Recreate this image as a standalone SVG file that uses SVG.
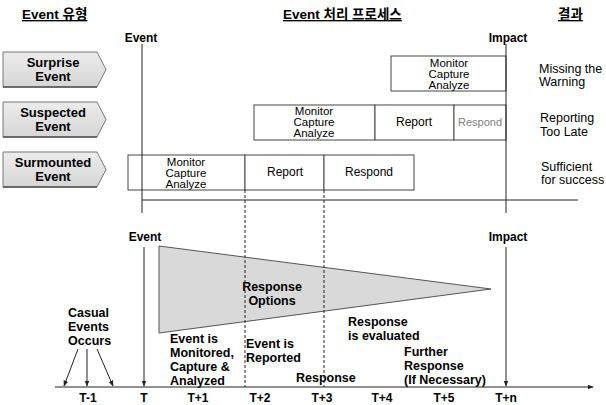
<svg xmlns="http://www.w3.org/2000/svg" width="606" height="405" viewBox="0 0 606 405">
  <style>
    .hd { font-family: "Liberation Sans", "Noto Sans CJK KR", sans-serif; font-size: 13.5px; font-weight: bold; fill: #000; text-decoration: underline; }
    .b { font-family: "Liberation Sans", Arial, sans-serif; font-size: 12.5px; font-weight: bold; fill: #000; }
    .c { font-family: "Liberation Sans", Arial, sans-serif; font-size: 13px; font-weight: bold; fill: #000; }
    .n { font-family: "Liberation Sans", Arial, sans-serif; font-size: 11.5px; fill: #000; }
    .m { font-family: "Liberation Sans", Arial, sans-serif; font-size: 12px; fill: #000; }
    .g { font-family: "Liberation Sans", Arial, sans-serif; font-size: 11px; fill: #808080; }
    .r { font-family: "Liberation Sans", Arial, sans-serif; font-size: 12.5px; fill: #000; }
    .t { font-family: "Liberation Sans", Arial, sans-serif; font-size: 12px; font-weight: bold; fill: #000; }
    .box { fill: #fff; stroke: #444; stroke-width: 1; }
    .chev { fill: url(#chevFill); stroke: #777; stroke-width: 1; }
    .ln { stroke: #222; stroke-width: 1; fill: none; }
    .dash { stroke: #222; stroke-width: 1; stroke-dasharray: 3 2; fill: none; }
  </style>
  <defs>
    <linearGradient id="chevFill" x1="0" y1="0" x2="0" y2="1">
      <stop offset="0" stop-color="#ececec"/>
      <stop offset="1" stop-color="#d6d6d6"/>
    </linearGradient>
    <marker id="arr" viewBox="0 0 10 10" refX="9" refY="5" markerWidth="6" markerHeight="6" orient="auto">
      <path d="M0,1 L10,5 L0,9 z" fill="#222"/>
    </marker>
  </defs>

  <rect width="606" height="405" fill="#fff"/>

  <!-- column headings -->
  <g id="headings">
    <text class="hd" x="22" y="19">Event 유형</text>
    <text class="hd" x="283" y="19">Event 처리 프로세스</text>
    <text class="hd" x="558" y="19">결과</text>
  </g>

  <!-- event type chevrons -->
  <g id="surprise-event">
    <path class="chev" d="M3,52 H97 L106,69.5 L97,87 H3 Z"/>
    <path d="M97,87 H3" stroke="#555" stroke-width="1.5"/>
    <text class="c" text-anchor="middle" x="53" y="67">Surprise</text>
    <text class="c" text-anchor="middle" x="53" y="81">Event</text>
  </g>
  <g id="suspected-event">
    <path class="chev" d="M3,102 H97 L106,119.5 L97,137 H3 Z"/>
    <path d="M97,137 H3" stroke="#555" stroke-width="1.5"/>
    <text class="c" text-anchor="middle" x="53" y="117">Suspected</text>
    <text class="c" text-anchor="middle" x="53" y="131">Event</text>
  </g>
  <g id="surmounted-event">
    <path class="chev" d="M3,152 H97 L106,169.5 L97,187 H3 Z"/>
    <path d="M97,187 H3" stroke="#555" stroke-width="1.5"/>
    <text class="c" text-anchor="middle" x="53" y="167">Surmounted</text>
    <text class="c" text-anchor="middle" x="53" y="181">Event</text>
  </g>

  <!-- process rows -->
  <g id="row-surprise">
    <rect class="box" x="391" y="56" width="115" height="35"/>
    <text class="n" text-anchor="middle" x="449" y="67">Monitor</text>
    <text class="n" text-anchor="middle" x="449" y="78">Capture</text>
    <text class="n" text-anchor="middle" x="449" y="89">Analyze</text>
  </g>
  <g id="row-suspected">
    <rect class="box" x="254" y="105" width="121" height="35"/>
    <rect class="box" x="375" y="105" width="79" height="35"/>
    <rect class="box" x="454" y="105" width="52" height="35"/>
    <text class="n" text-anchor="middle" x="314" y="115">Monitor</text>
    <text class="n" text-anchor="middle" x="314" y="126">Capture</text>
    <text class="n" text-anchor="middle" x="314" y="137">Analyze</text>
    <text class="m" text-anchor="middle" x="414" y="126">Report</text>
    <text class="g" text-anchor="middle" x="480" y="126">Respond</text>
  </g>
  <g id="row-surmounted">
    <rect class="box" x="128" y="155" width="117" height="35"/>
    <rect class="box" x="245" y="155" width="79" height="35"/>
    <rect class="box" x="324" y="155" width="90" height="35"/>
    <text class="n" text-anchor="middle" x="186" y="166">Monitor</text>
    <text class="n" text-anchor="middle" x="186" y="177">Capture</text>
    <text class="n" text-anchor="middle" x="186" y="188">Analyze</text>
    <text class="m" text-anchor="middle" x="285" y="176">Report</text>
    <text class="m" text-anchor="middle" x="369" y="176">Respond</text>
  </g>

  <!-- outcomes -->
  <g id="outcomes">
    <text class="r" x="539" y="72.5">Missing the</text>
    <text class="r" x="539" y="86">Warning</text>
    <text class="r" x="540" y="122">Reporting</text>
    <text class="r" x="540" y="135.5">Too Late</text>
    <text class="r" x="541" y="170.5">Sufficient</text>
    <text class="r" x="541" y="184">for success</text>
  </g>

  <!-- upper time frame -->
  <g id="upper-frame">
    <text class="t" text-anchor="middle" x="141" y="42">Event</text>
    <text class="t" text-anchor="middle" x="508" y="42">Impact</text>
  </g>

  <!-- response window -->
  <g id="response-options">
    <polygon points="159,246 491,289 159,333" fill="#d9d9d9" stroke="#555" stroke-width="1"/>
    <text class="b" text-anchor="middle" x="272" y="291">Response</text>
    <text class="b" text-anchor="middle" x="272" y="305">Options</text>
  </g>

  <!-- timeline labels -->
  <g id="timeline-labels">
    <text class="t" text-anchor="middle" x="145" y="241">Event</text>
    <text class="t" text-anchor="middle" x="508" y="241">Impact</text>
    <text class="b" x="68" y="317">Casual</text>
    <text class="b" x="68" y="331">Events</text>
    <text class="b" x="68" y="345">Occurs</text>
    <text class="b" x="170" y="343">Event is</text>
    <text class="b" x="170" y="357">Monitored,</text>
    <text class="b" x="170" y="371">Capture &amp;</text>
    <text class="b" x="170" y="385">Analyzed</text>
    <text class="b" x="246" y="348">Event is</text>
    <text class="b" x="246" y="362">Reported</text>
    <text class="b" x="296" y="382">Response</text>
    <text class="b" x="348" y="326">Response</text>
    <text class="b" x="348" y="340">is evaluated</text>
    <text class="b" x="404" y="356">Further</text>
    <text class="b" x="404" y="370">Response</text>
    <text class="b" x="404" y="384">(If Necessary)</text>
  </g>

  <g id="tick-labels">
    <text class="t" text-anchor="middle" x="88" y="402">T-1</text>
    <text class="t" text-anchor="middle" x="144" y="402">T</text>
    <text class="t" text-anchor="middle" x="198" y="402">T+1</text>
    <text class="t" text-anchor="middle" x="260" y="402">T+2</text>
    <text class="t" text-anchor="middle" x="322" y="402">T+3</text>
    <text class="t" text-anchor="middle" x="382" y="402">T+4</text>
    <text class="t" text-anchor="middle" x="444" y="402">T+5</text>
    <text class="t" text-anchor="middle" x="506" y="402">T+n</text>
  </g>

  <!-- connectors -->
  <g id="connectors">
    <line class="ln" x1="142" y1="44" x2="142" y2="213"/>
    <line class="ln" x1="506" y1="44" x2="506" y2="213"/>
    <line class="ln" x1="142" y1="200" x2="578" y2="200"/>
    <line class="dash" x1="245" y1="190" x2="245" y2="387"/>
    <line class="dash" x1="324" y1="190" x2="324" y2="387"/>
    <line class="ln" x1="144" y1="247" x2="144" y2="386" marker-end="url(#arr)"/>
    <line class="ln" x1="506" y1="247" x2="506" y2="386" marker-end="url(#arr)"/>
    <line class="ln" x1="78" y1="349" x2="64" y2="386" marker-end="url(#arr)"/>
    <line class="ln" x1="87" y1="349" x2="87" y2="386" marker-end="url(#arr)"/>
    <line class="ln" x1="97" y1="349" x2="113" y2="386" marker-end="url(#arr)"/>
    <line class="ln" x1="55" y1="387" x2="593" y2="387" marker-end="url(#arr)"/>
  </g>
</svg>
